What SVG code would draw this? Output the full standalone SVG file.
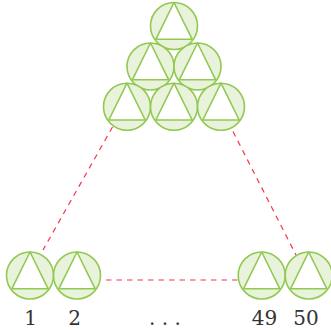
<svg xmlns="http://www.w3.org/2000/svg" width="331" height="330" viewBox="0 0 331 330">
<style>
.c{fill:#e9f3dc;stroke:#92c952;stroke-width:1.6}
.t{fill:#fff;stroke:#92c952;stroke-width:1.6;stroke-linejoin:round}
.d{fill:none;stroke:#f5354f;stroke-width:1.2;stroke-dasharray:5.500 5}
text{font-family:"DejaVu Serif",serif;font-size:20px;fill:#333;text-anchor:middle}
</style>
<defs><g id="n"><circle class="c" r="23.5"/><path class="t" d="M0-23.5L18.2 13.3H-18.2Z"/></g></defs>
<g id="connectors">
<path class="d" d="M112.500 127L43 250"/>
<path class="d" d="M233 131.500L296 255"/>
<path class="d" d="M106 280H238"/>
</g>
<g id="n1"><use href="#n" x="174" y="26"/></g>
<g id="n2"><use href="#n" x="150.500" y="66.500"/></g>
<g id="n3"><use href="#n" x="197.500" y="66.500"/></g>
<g id="n4"><use href="#n" x="127" y="106.700"/></g>
<g id="n5"><use href="#n" x="174" y="106.700"/></g>
<g id="n6"><use href="#n" x="221" y="106.700"/></g>
<g id="b1"><use href="#n" x="30" y="275.500"/><text x="30.500" y="325">1</text></g>
<g id="b2"><use href="#n" x="77" y="275.500"/><text x="74.500" y="325">2</text></g>
<g id="b49"><use href="#n" x="261.700" y="275.500"/><text x="264.500" y="325">49</text></g>
<g id="b50"><use href="#n" x="308.700" y="275.500"/><text x="306" y="325">50</text></g>
<text x="165" y="325">. . .</text>
</svg>
